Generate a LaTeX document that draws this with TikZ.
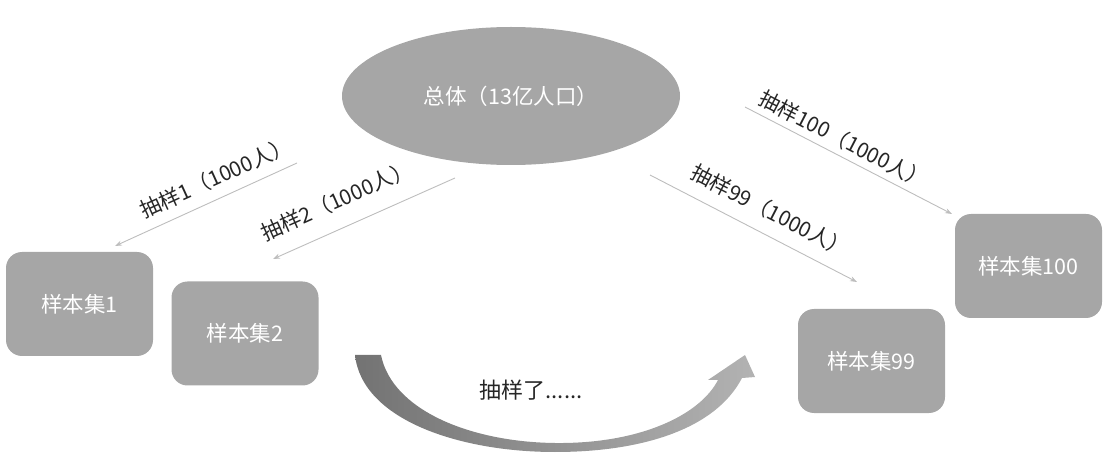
\documentclass[tikz,border=0pt]{standalone}
\usepackage{fontspec}
\setmainfont{Noto Sans CJK SC}
\usetikzlibrary{shapes.geometric,arrows.meta}
\definecolor{shapegray}{HTML}{A6A6A6}
\definecolor{linegray}{HTML}{BDBDBD}
\definecolor{labelgray}{HTML}{262626}
\begin{document}
\begin{tikzpicture}[x=1pt,y=-1pt,
  sampbox/.style={rectangle, rounded corners=16pt, fill=shapegray, minimum width=147pt, minimum height=104pt, inner sep=0pt, text=white, font=\fontsize{21.5}{24}\selectfont},
  popell/.style={ellipse, fill=shapegray, minimum width=338pt, minimum height=138pt, inner sep=0pt, text=white, font=\fontsize{21.5}{24}\selectfont},
  samparrow/.style={draw=linegray, line width=0.9pt, -{Stealth[length=7pt,width=5pt]}},
  samplabel/.style={sloped, text=labelgray, font=\fontsize{21}{24}\selectfont, inner sep=0pt}
]
\useasboundingbox (0,0) rectangle (1109,470);
% population
\node[popell] (pop) at (511,96) {总体（13亿人口）};
% sample sets
\node[sampbox] (s1) at (79.5,304) {样本集1};
\node[sampbox] (s2) at (245,333.5) {样本集2};
\node[sampbox] (s99) at (871.5,361) {样本集99};
\node[sampbox] (s100) at (1028.5,266) {样本集100};
% connector end points
\coordinate (a1s) at (297,163);
\coordinate (a1e) at (115,246);
\coordinate (a2s) at (455,178);
\coordinate (a2e) at (273,259);
\coordinate (a99s) at (650,175);
\coordinate (a99e) at (857,282);
\coordinate (a100s) at (745,107);
\coordinate (a100e) at (952,214);
\draw[samparrow] (a1s) -- node[samplabel, pos=0.40, above=10pt] {抽样1（1000人）} (a1e);
\draw[samparrow] (a2s) -- node[samplabel, pos=0.59, above=17pt] {抽样2（1000人）} (a2e);
\draw[samparrow] (a99s) -- node[samplabel, pos=0.53, above=13pt] {抽样99（1000人）} (a99e);
\draw[samparrow] (a100s) -- node[samplabel, pos=0.44, above=6pt] {抽样100（1000人）} (a100e);
% curved arrow
\path[left color=black!55, right color=black!30, shading=axis]
  (355,355) -- (381,355)
  .. controls (392,410) and (470,442) .. (555,443)
  .. controls (640,444) and (700,415) .. (718,380)
  -- (708,380) -- (745,355) -- (755,377) -- (742,378)
  .. controls (715,430) and (640,452) .. (555,452)
  .. controls (460,452) and (362,420) .. (355,355) -- cycle;
\node[text=labelgray, font=\fontsize{22}{25}\selectfont, inner sep=0pt] (more) at (531,390) {抽样了......};
\end{tikzpicture}
\end{document}
